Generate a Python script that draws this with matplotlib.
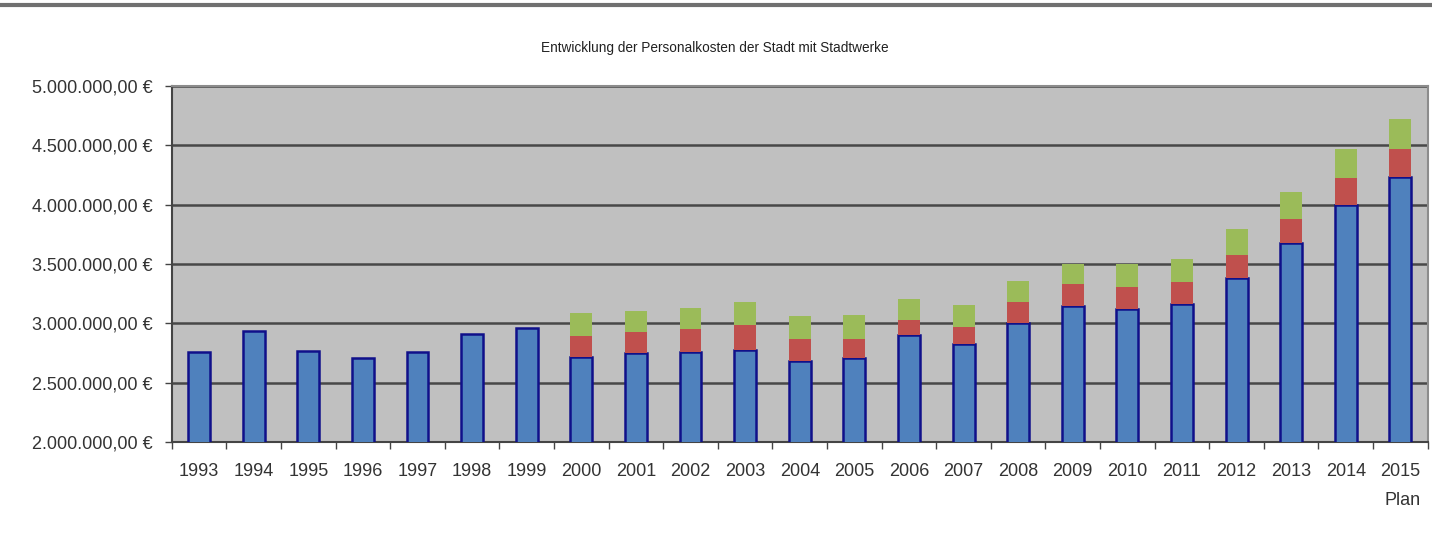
import matplotlib
matplotlib.use('Agg')
import matplotlib.pyplot as plt
from matplotlib.lines import Line2D
from matplotlib.ticker import FuncFormatter, FixedLocator
import numpy as np

plt.rcParams['font.family'] = ['Liberation Sans', 'DejaVu Sans']

# Personalkosten je Jahr (Euro)
years = ['1993', '1994', '1995', '1996', '1997', '1998', '1999', '2000',
         '2001', '2002', '2003', '2004', '2005', '2006', '2007', '2008',
         '2009', '2010', '2011', '2012', '2013', '2014', '2015\nPlan']
stadt = [2757000, 2934000, 2766000, 2712000, 2757000, 2912000, 2960000, 2718000,
         2746000, 2760000, 2774000, 2681000, 2710000, 2901000, 2828000, 3005000,
         3146000, 3123000, 3165000, 3385000, 3680000, 4001000, 4236000]
stadtwerke_a = [0, 0, 0, 0, 0, 0, 0, 174000,
                183000, 189000, 211000, 189000, 160000, 123000, 143000, 174000,
                188000, 186000, 183000, 193000, 196000, 223000, 236000]
stadtwerke_b = [0, 0, 0, 0, 0, 0, 0, 191000,
                174000, 177000, 191000, 188000, 202000, 178000, 180000, 177000,
                169000, 194000, 191000, 220000, 234000, 245000, 247000]

blue = '#4F81BD'
red = '#C0504D'
green = '#9BBB59'

fig = plt.figure(figsize=(14.32, 5.42), dpi=100)
ax = fig.add_axes([0.120, 0.1845, 0.877, 0.6568])
ax.set_facecolor('#C0C0C0')

x = np.arange(len(years))
stadt = np.array(stadt)
a = np.array(stadtwerke_a)
b = np.array(stadtwerke_b)
w = 0.40

ax.bar(x, stadt, w, bottom=0, color=blue, edgecolor='#10108A', linewidth=1.8, zorder=3)
ax.bar(x, a, w, bottom=stadt, color=red, linewidth=0, zorder=3)
ax.bar(x, b, w, bottom=stadt + a, color=green, linewidth=0, zorder=3)

ax.set_ylim(2000000, 5000000)
ax.set_xlim(-0.5, len(years) - 0.5)
ax.set_yticks(np.arange(2000000, 5000001, 500000))
ax.yaxis.set_major_formatter(FuncFormatter(
    lambda v, p: f'{v:,.2f}'.replace(',', 'X').replace('.', ',').replace('X', '.') + ' €'))
ax.yaxis.grid(True, color='#484848', linewidth=1.8, zorder=1)
ax.set_axisbelow(True)

ax.set_xticks(x)
ax.set_xticklabels(years, multialignment='right', linespacing=1.9)
ax.xaxis.set_minor_locator(FixedLocator(np.arange(-0.5, len(years), 1.0)))
ax.tick_params(axis='x', which='major', length=0, pad=15, labelsize=13, labelcolor='#333333')
ax.tick_params(axis='x', which='minor', length=5, width=1, color='#444444', direction='out')
ax.tick_params(axis='y', length=5, width=1, color='#444444', pad=9, labelsize=13,
               labelcolor='#333333')

for side in ['top', 'right']:
    ax.spines[side].set_color('#8C8C8C')
    ax.spines[side].set_linewidth(1.5)
ax.spines['left'].set_color('#444444')
ax.spines['left'].set_linewidth(1.5)
ax.spines['bottom'].set_color('#444444')
ax.spines['bottom'].set_linewidth(1.5)

fig.text(0.4993, 0.912, 'Entwicklung der Personalkosten der Stadt mit Stadtwerke',
         ha='center', va='center', fontsize=9.8, color='#222222')

fig.add_artist(Line2D([0, 1], [0.990, 0.990], transform=fig.transFigure,
                      color='#707070', linewidth=3))

fig.savefig('out.png', dpi=100)
